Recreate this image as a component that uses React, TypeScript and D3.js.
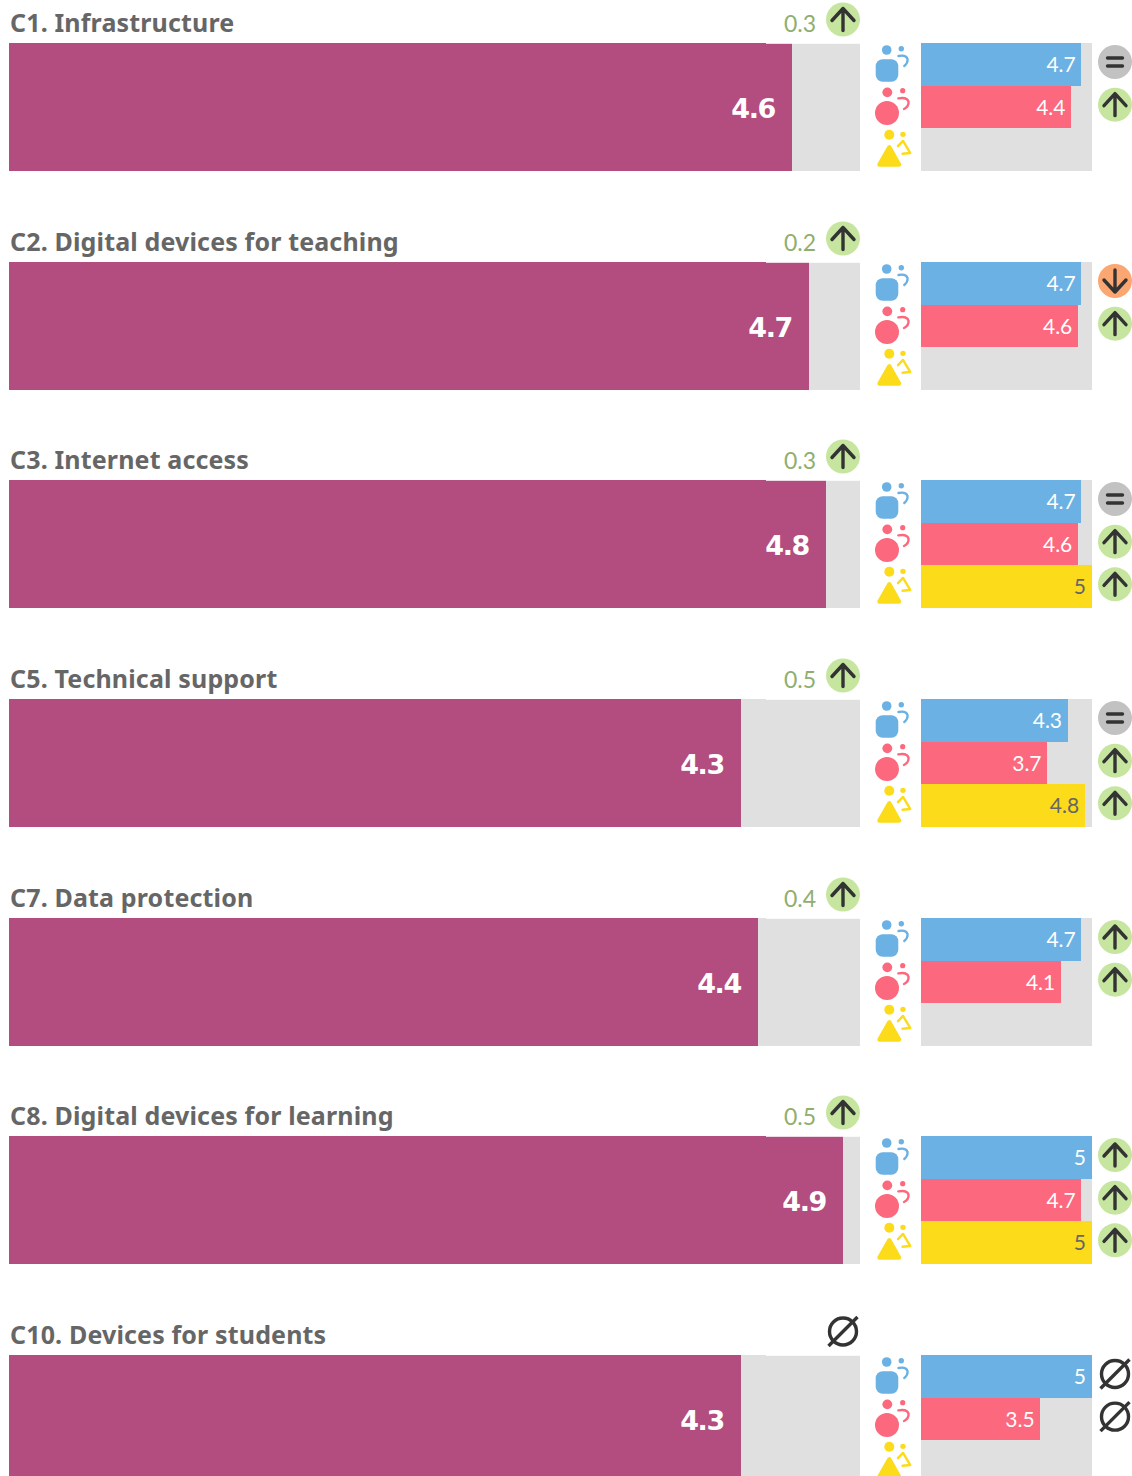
import React from 'react';
import * as d3 from 'd3';

const categories = ['C1. Infrastructure', 'C2. Digital devices for teaching', 'C3. Internet access', 'C5. Technical support', 'C7. Data protection', 'C8. Digital devices for learning', 'C10. Devices for students'];
const overall = [4.6, 4.7, 4.8, 4.3, 4.4, 4.9, 4.3];
const overallChange = [0.3, 0.2, 0.3, 0.5, 0.4, 0.5, null];
const overallTrend = ['up', 'up', 'up', 'up', 'up', 'up', 'none'];
const blueValues = [4.7, 4.7, 4.7, 4.3, 4.7, 5, 5];
const redValues = [4.4, 4.6, 4.6, 3.7, 4.1, 4.7, 3.5];
const yellowValues = [null, null, 5, 4.8, null, 5, null];
const blueTrend = ['eq', 'down', 'eq', 'eq', 'up', 'up', 'none'];
const redTrend = ['up', 'up', 'up', 'up', 'up', 'up', 'none'];
const yellowTrend = [null, null, 'up', 'up', null, 'up', null];

const groups = ['blue', 'red', 'yellow'];
const groupColor = { blue: '#6bb1e3', red: '#fc687d', yellow: '#fcdb1a' };
const trendColor = { up: '#c6e6a0', down: '#fca672', eq: '#c2c2c2' };
const INK = '#333333';
const TEXT = '#666666';

const y = d3.scaleBand().domain(categories).range([43, 1483]).paddingInner(0.4146).paddingOuter(0).align(0);
const xMain = d3.scaleLinear().domain([0, 5]).range([9, 860]);
const xSide = d3.scaleLinear().domain([0, 5]).range([921, 1092]);

function TrendIcon({ cx, cy, kind }: { cx: number; cy: number; kind: string }) {
  if (kind === 'none') {
    return (
      <g transform={`translate(${cx},${cy})`} fill="none" stroke={INK} strokeWidth={3.4}>
        <circle r={13.5} />
        <line x1={-14.5} y1={14.5} x2={14.5} y2={-14.5} />
      </g>
    );
  }
  return (
    <g transform={`translate(${cx},${cy})`}>
      <circle r={17} fill={trendColor[kind]} />
      <g fill="none" stroke={INK} strokeWidth={3.4} strokeLinecap="round" strokeLinejoin="round">
        {kind === 'eq' && (
          <>
            <line x1={-7.5} x2={7.5} y1={-4} y2={-4} />
            <line x1={-7.5} x2={7.5} y1={4} y2={4} />
          </>
        )}
        {kind === 'up' && <path d="M0,11 V-11 M-11,1 L0,-11 L11,1" />}
        {kind === 'down' && <path d="M0,-11 V11 M-11,-1 L0,11 L11,-1" />}
      </g>
    </g>
  );
}

function PersonIcon({ group, top }: { group: string; top: number }) {
  const c = groupColor[group];
  return (
    <g transform={`translate(875,${top})`} fill={c}>
      {group === 'blue' && (
        <>
          <rect x={0.7} y={16.3} width={22.6} height={22.4} rx={7} />
          <circle cx={11.7} cy={7} r={4.8} />
          <circle cx={26.3} cy={5.7} r={2.7} />
          <path d="M23.5,13 Q31,11.5 32.5,16 Q33,20 29.3,23" fill="none" stroke={c} strokeWidth={2.4} strokeLinecap="round" />
        </>
      )}
      {group === 'red' && (
        <>
          <circle cx={12} cy={27.3} r={12} />
          <circle cx={12.3} cy={6.7} r={4.9} />
          <circle cx={27.7} cy={5} r={2.6} />
          <path d="M23.3,12.7 Q32,11 33.5,16 Q34,21 29,23.3" fill="none" stroke={c} strokeWidth={2.4} strokeLinecap="round" />
        </>
      )}
      {group === 'yellow' && (
        <>
          <path d="M14.3,19 L4.5,36.2 H24 Z" stroke={c} strokeWidth={4.4} strokeLinejoin="round" />
          <circle cx={14.3} cy={6.4} r={5} />
          <circle cx={28} cy={6} r={2.7} />
          <path d="M23,17.8 L28,12.6 L35.2,24.6 L27.5,25.4" fill="none" stroke={c} strokeWidth={2.4} strokeLinecap="round" strokeLinejoin="round" />
        </>
      )}
    </g>
  );
}

export default function App() {
  return (
    <svg width={1132} height={1476} style={{ position: 'absolute', left: 0, top: 0, display: 'block' }}>
      <rect width={1132} height={1476} fill="#ffffff" />
      {categories.map((cat, i) => {
        const top = Math.round(y(cat));
        const h = Math.round(y.bandwidth());
        const inner = d3.scaleBand().domain(groups).range([top, top + h]);
        const bandTop = (g: string) => Math.round(inner(g));
        const bandH = (g: string) => Math.round(inner(g) + inner.bandwidth()) - bandTop(g);
        const rows = [
          { g: 'blue', v: blueValues[i], t: blueTrend[i] },
          { g: 'red', v: redValues[i], t: redTrend[i] },
          { g: 'yellow', v: yellowValues[i], t: yellowTrend[i] },
        ];
        return (
          <g key={cat}>
            <text x={10} y={top - 11.5} fontFamily="'Noto Sans', sans-serif" fontWeight={700} fontSize={25} letterSpacing={0.15} fill={TEXT}>{cat}</text>
            {overallChange[i] != null && (
              <text x={816} y={top - 11} textAnchor="end" fontFamily="Lato, sans-serif" fontWeight={400} fontSize={23} fill="#90ae6e">{overallChange[i]}</text>
            )}
            <TrendIcon cx={843} cy={top - 23.5} kind={overallTrend[i]} />

            <rect x={xMain(0)} y={top} width={xMain(5) - xMain(0)} height={h} fill="#e0e0e0" />
            <rect x={xMain(0)} y={top} width={Math.round(xMain(overall[i]) - xMain(0))} height={h} fill="#b34c7f" />
            <rect x={766} y={top} width={94} height={0.8} fill="#ffffff" />
            <text x={xMain(overall[i]) - 17} y={top + 75} textAnchor="end" fontFamily="'DejaVu Sans', sans-serif" fontWeight={700} fontSize={27} letterSpacing={-1.4} fill="#ffffff">{overall[i]}</text>

            <rect x={xSide(0)} y={top} width={xSide(5) - xSide(0)} height={h} fill="#e0e0e0" />
            {rows.map(r => (
              <g key={r.g}>
                <PersonIcon group={r.g} top={inner(r.g)} />
                {r.v != null && (
                  <>
                    <rect x={xSide(0)} y={bandTop(r.g)} width={Math.floor(xSide(r.v) - xSide(0))} height={bandH(r.g)} fill={groupColor[r.g]} />
                    <text x={xSide(r.v) - 6} y={inner(r.g) + 29} textAnchor="end" fontFamily="Lato, sans-serif" fontWeight={400} fontSize={21} fill={r.g === 'yellow' ? TEXT : '#ffffff'}>{r.v}</text>
                  </>
                )}
                {r.t != null && <TrendIcon cx={1115} cy={inner(r.g) + 19} kind={r.t} />}
              </g>
            ))}
          </g>
        );
      })}
    </svg>
  );
}
